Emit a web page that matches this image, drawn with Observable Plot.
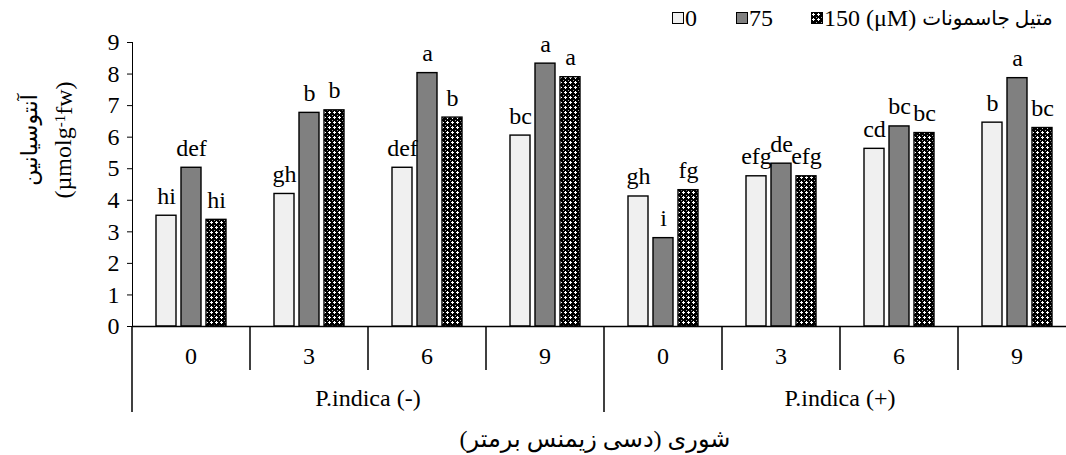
<!DOCTYPE html>
<html>
<head>
<meta charset="utf-8">
<script src="https://cdn.jsdelivr.net/npm/d3@7"></script>
<script src="https://cdn.jsdelivr.net/npm/@observablehq/plot@0.6"></script>
</head>
<body style="margin:0;background:#fff;color:#000;font-family:'Liberation Serif','DejaVu Sans',serif">
<svg width="0" height="0" style="position:absolute">
  <defs>
    <pattern id="mj150" width="5" height="5" patternUnits="userSpaceOnUse">
      <rect width="5" height="5" fill="#000"/>
      <rect x="1" y="2" width="3" height="1" fill="#fff"/>
      <rect x="2" y="1" width="1" height="3" fill="#fff"/>
      <rect x="0" y="0" width="1" height="1" fill="#aaa"/>
    </pattern>
  </defs>
</svg>
<div id="wrap" style="width:1066px;height:455px;position:relative;overflow:hidden">
  <div id="legend" style="height:30px;position:relative;font-family:'Liberation Serif','DejaVu Sans',serif;font-size:24px"></div>
  <div id="chart" style="height:398px"></div>
  <div id="xtitle" style="position:absolute;left:0;width:1190px;top:424px;text-align:center;font-family:'Liberation Serif','DejaVu Sans',serif;font-size:24px;line-height:30px;white-space:nowrap"><span dir="rtl">شوری (دسی زیمنس برمتر)</span></div>
</div>
<script>
// Anthocyanin content (µmol g-1 FW) by P. indica inoculation, salinity (dS/m) and methyl jasmonate (µM)
const inoculation = ["P.indica (-)", "P.indica (+)"];
const salinity = ["0", "3", "6", "9"];
const meja = ["0", "75", "150"];
const mejaColors = ["#f0f0f0", "#808080", "url(#mj150)"];

// one value per inoculation × salinity cell, in order (-)0,3,6,9 then (+)0,3,6,9
const anthocyanin0   = [3.51, 4.20, 5.03, 6.05, 4.12, 4.76, 5.63, 6.46];
const anthocyanin75  = [5.03, 6.77, 8.03, 8.33, 2.80, 5.16, 6.34, 7.87];
const anthocyanin150 = [3.38, 6.85, 6.62, 7.90, 4.32, 4.76, 6.13, 6.29];

// Duncan grouping letters
const letters0   = ["hi", "gh", "def", "bc", "gh", "efg", "cd", "b"];
const letters75  = ["def", "b", "a", "a", "i", "de", "bc", "a"];
const letters150 = ["hi", "b", "b", "a", "fg", "efg", "bc", "bc"];

const yTicks = [0, 1, 2, 3, 4, 5, 6, 7, 8, 9];

const serif = "Liberation Serif";
const arabic = "'Liberation Serif', 'DejaVu Sans', sans-serif";

const cells = [];
inoculation.forEach(g => salinity.forEach(s => cells.push(`${g}|${s}`)));

const series = [
  {t: "0", values: anthocyanin0, letters: letters0},
  {t: "75", values: anthocyanin75, letters: letters75},
  {t: "150", values: anthocyanin150, letters: letters150}
];
const rows = [];
series.forEach(({t, values, letters}) =>
  values.forEach((v, i) => rows.push({cell: cells[i], t, v, letter: letters[i]})));

const plot = Plot.plot({
  width: 1066,
  height: 398,
  marginTop: 12,
  marginBottom: 102,
  marginLeft: 128,
  marginRight: 0,
  style: {fontFamily: serif, fontSize: "24px", color: "#000", background: "#fff"},
  fx: {domain: cells, range: [128, 1079], padding: 0, axis: null},
  x: {domain: meja, paddingInner: 0.2, paddingOuter: 0.9, axis: null},
  y: {domain: [0, 9], ticks: yTicks, tickSize: 5, tickPadding: 8, line: true, label: null},
  color: {domain: meja, range: mejaColors},
  marks: [
    Plot.barY(rows, {fx: "cell", x: "t", y: "v", fill: "t", stroke: "#000", strokeWidth: 1.4}),
    Plot.text(rows, {fx: "cell", x: "t", y: "v", text: "letter", lineAnchor: "bottom", dy: -12, fontSize: 24, fontFamily: serif}),
    Plot.ruleY([0], {stroke: "#000", strokeWidth: 1.5})
  ]
});
plot.setAttribute("font-family", serif);
plot.setAttribute("font-size", 24);
plot.style.display = "block";
document.getElementById("chart").append(plot);

// two-level category axis under the bars, positioned from the facet scale
const svg = d3.select(plot);
const fx = plot.scale("fx");
const y = plot.scale("y");
const base = y.apply(0);
const bw = fx.bandwidth;
const axis = svg.append("g").attr("stroke", "#000").attr("stroke-width", 1.5);
cells.forEach((c, i) => {
  const x0 = fx.apply(c);
  axis.append("line").attr("x1", x0).attr("x2", x0).attr("y1", base).attr("y2", base + (i % 4 === 0 ? 86 : 44));
});
const xEnd = fx.apply(cells[cells.length - 1]) + bw;
axis.append("line").attr("x1", xEnd).attr("x2", xEnd).attr("y1", base).attr("y2", base + 86);

const labels = svg.append("g").attr("text-anchor", "middle").attr("font-family", serif).attr("font-size", 24);
cells.forEach(c => {
  labels.append("text").attr("x", fx.apply(c) + bw / 2).attr("y", base + 38).text(c.split("|")[1]);
});
inoculation.forEach((g, gi) => {
  const first = fx.apply(cells[gi * 4]);
  const last = fx.apply(cells[gi * 4 + 3]) + bw;
  labels.append("text").attr("x", (first + last) / 2).attr("y", base + 80).text(g);
});

// rotated y-axis title
const yt = svg.append("g").attr("text-anchor", "middle").attr("transform", "translate(0,110)");
yt.append("text").attr("transform", "translate(30,0) rotate(-90)").attr("dy", "0.3em")
  .style("font-family", arabic).attr("font-size", 22).text("آنتوسیانین");
const unit = yt.append("text").attr("transform", "translate(63,0) rotate(-90)").attr("dy", "0.35em")
  .attr("font-family", serif).attr("font-size", 24);
unit.append("tspan").text("(µmolg");
unit.append("tspan").attr("dy", "-0.45em").attr("font-size", 15).text("-1");
unit.append("tspan").attr("dy", "0.3em").text("fw)");

// legend
const legend = d3.select("#legend");
const legendLeft = [672, 736, 811];
meja.forEach((m, i) => {
  const item = legend.append("div")
    .style("position", "absolute").style("left", legendLeft[i] + "px").style("top", "5px")
    .style("display", "flex").style("align-items", "center").style("white-space", "nowrap")
    .style("line-height", "26px");
  const sw = item.append("svg").attr("width", 12).attr("height", 12).style("margin-right", "1px");
  sw.append("rect").attr("x", 0.5).attr("y", 0.5).attr("width", 11).attr("height", 11)
    .attr("fill", mejaColors[i]).attr("stroke", "#000");
  item.append("span").text(i === 2 ? `${m} (μM)\u00a0` : m);
  if (i === 2) item.append("span").attr("dir", "rtl").style("font-size", "20px").text("متیل جاسمونات");
});
</script>
</body>
</html>
